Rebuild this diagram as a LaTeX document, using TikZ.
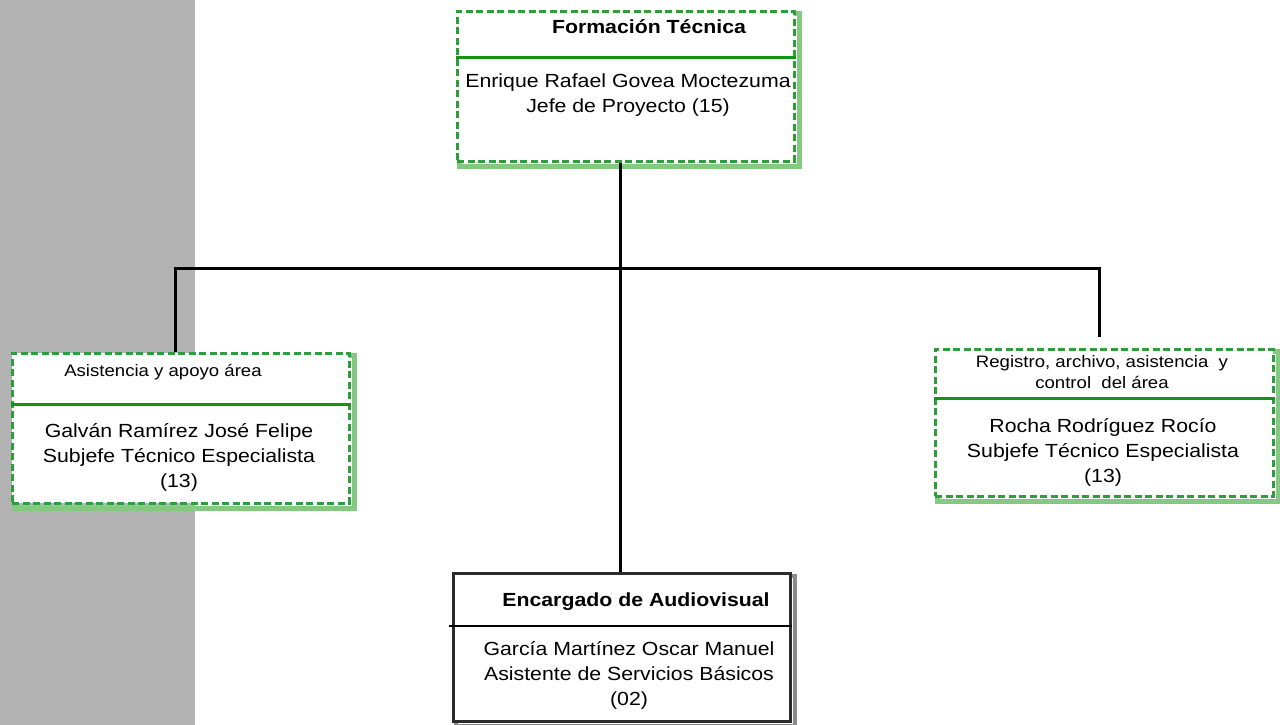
\documentclass[tikz,border=0pt]{standalone}
\usepackage{fontspec}
\setmainfont[FakeStretch=1.12]{Liberation Sans}
\usetikzlibrary{backgrounds}
\definecolor{dashgreen}{HTML}{2E9E3A}
\definecolor{shadowgreen}{HTML}{84C884}
\definecolor{rulegreen}{HTML}{139413}
\definecolor{bandgray}{HTML}{B3B3B3}
\definecolor{framegray}{HTML}{2B2B2B}
\definecolor{shadowgray}{HTML}{8A8A8A}
\begin{document}
\begin{tikzpicture}[x=1pt,y=-1pt,
  unitbox/.style={draw=dashgreen, line width=2.8pt, dash pattern=on 7pt off 3.5pt,
    fill=white, inner sep=0pt, anchor=north west},
  plainbox/.style={draw=framegray, line width=2.6pt, fill=white, inner sep=0pt, anchor=north west},
  greenshadow/.style={draw=shadowgreen, line width=5.5pt},
  grayshadow/.style={draw=shadowgray, line width=4pt},
  greenrule/.style={draw=rulegreen, line width=3pt},
  blackrule/.style={draw=black, line width=2.6pt},
  link/.style={draw=black, line width=3pt},
  body/.style={align=center, inner sep=0pt, font=\fontsize{19}{25}\selectfont},
  head/.style={align=center, inner sep=0pt, font=\fontsize{19}{22}\selectfont\bfseries},
  minorhead/.style={align=center, inner sep=0pt, font=\fontsize{16.6}{21.5}\selectfont},
]
\useasboundingbox (0,0) rectangle (1280,725);

% unit boxes
\node[unitbox, minimum width=337pt, minimum height=150pt] (top) at (456,10) {};
\node[unitbox, minimum width=337pt, minimum height=150pt] (left) at (11,352) {};
\node[unitbox, minimum width=338pt, minimum height=147pt] (right) at (934,348) {};
\node[plainbox, minimum width=337pt, minimum height=148pt] (bot) at (452,572) {};

% side band and drop shadows behind the boxes
\begin{scope}[on background layer]
  \fill[bandgray] (0,0) rectangle (195,725);
  \foreach \b in {top,left,right}
    \draw[greenshadow] ([shift={(3.5pt,-3.5pt)}]\b.north west) rectangle ([shift={(3.5pt,-3.5pt)}]\b.south east);
  \draw[grayshadow] ([shift={(3.5pt,-3.5pt)}]bot.north west) rectangle ([shift={(3.5pt,-3.5pt)}]bot.south east);
\end{scope}

% dividing rules
\draw[greenrule] (top.west |- 0,58) -- (top.east |- 0,58);
\draw[greenrule] (left.west |- 0,404) -- (left.east |- 0,404);
\draw[greenrule] (right.west |- 0,398) -- (right.east |- 0,398);
\draw[blackrule] (449,626) -- (bot.east |- 0,626);

% texts
\node[head] (toptitle) at (649,27) {Formación Técnica};
\node[body] (topname) at (628,95) {Enrique Rafael Govea Moctezuma\\Jefe de Proyecto (15)};

\node[minorhead] (lefttitle) at (163,372) {Asistencia y apoyo área};
\node[body] (leftname) at (179,457) {Galván Ramírez José Felipe\\Subjefe Técnico Especialista\\(13)};

\node[minorhead] (righttitle) at (1102,372) {Registro, archivo, asistencia\ \ y\\control\ \ del área};
\node[body] (rightname) at (1103,452) {Rocha Rodríguez Rocío\\Subjefe Técnico Especialista\\(13)};

\node[head] (bottitle) at (636,602) {Encargado de Audiovisual};
\node[body] (botname) at (629,675) {García Martínez Oscar Manuel\\Asistente de Servicios Básicos\\(02)};

% connectors
\coordinate (busL) at (175,268);
\coordinate (busM) at (620,268);
\coordinate (busR) at (1099,268);
\coordinate (rEnd) at (1099,337);
\draw[link] (top.south -| busM) -- (bot.north -| busM);
\draw[link] (busL |- left.north) -- (busL) -- (busR) -- (rEnd);
\end{tikzpicture}
\end{document}
